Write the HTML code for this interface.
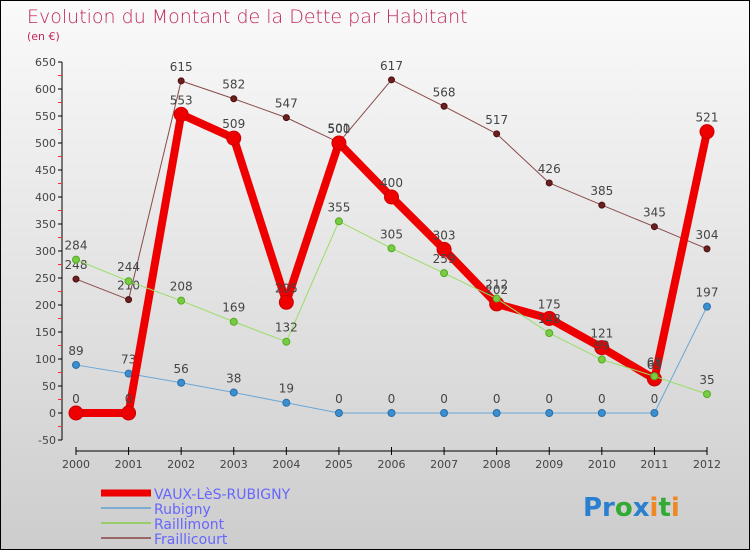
<!DOCTYPE html>
<html><head><meta charset="utf-8"><style>
html,body{margin:0;padding:0}
body{width:750px;height:550px;overflow:hidden;font-family:"DejaVu Sans","Liberation Sans",sans-serif}
#wrap{position:relative;width:748px;height:548px;border:1px solid #000;background:linear-gradient(#fafafa,#cdcdcd)}
svg text{font-family:"DejaVu Sans","Liberation Sans",sans-serif}
</style></head><body>
<div id="wrap">
<svg id="chart" width="748" height="548">
<text x="26" y="22" font-size="19" fill="#c0285a" font-weight="200">Evolution du Montant de la Dette par Habitant</text>
<text x="26" y="39" font-size="11" fill="#c0285a">(en €)</text>
<g id="axes"></g><g id="series"></g>
<g>
<line x1="100" y1="492" x2="150" y2="492" stroke="#e00" stroke-width="7"/>
<text x="153" y="498" font-size="14" fill="#66f">VAUX-LèS-RUBIGNY</text>
<line x1="100" y1="507" x2="150" y2="507" stroke="#7aaed0" stroke-width="2"/>
<text x="153" y="513" font-size="14" fill="#66f">Rubigny</text>
<line x1="100" y1="522" x2="150" y2="522" stroke="#9c6" stroke-width="2"/>
<text x="153" y="528" font-size="14" fill="#66f">Raillimont</text>
<line x1="100" y1="537" x2="150" y2="537" stroke="#966" stroke-width="2"/>
<text x="153" y="543" font-size="14" fill="#66f">Fraillicourt</text>
</g>
<text x="582" y="515" font-size="26" font-weight="bold"><tspan fill="#2a7fd0">Pr</tspan><tspan fill="#3a3">o</tspan><tspan fill="#2a7fd0">x</tspan><tspan fill="#e82">i</tspan><tspan fill="#3a3">t</tspan><tspan fill="#e82">i</tspan></text>
</svg></div>
<script>
const years=[2000,2001,2002,2003,2004,2005,2006,2007,2008,2009,2010,2011,2012];
const yTicks=[-50,0,50,100,150,200,250,300,350,400,450,500,550,600,650];
const vauxValues=[0,0,553,509,205,500,400,303,202,175,121,63,521];
const rubignyValues=[89,73,56,38,19,0,0,0,0,0,0,0,197];
const raillimontValues=[284,244,208,169,132,355,305,259,212,148,99,68,35];
const fraillicourtValues=[248,210,615,582,547,501,617,568,517,426,385,345,304];
const NS="http://www.w3.org/2000/svg";
const xs=i=>75+i*(631/12);
const ys=v=>412-v*27/50;
function mk(tag,attrs,parent){const e=document.createElementNS(NS,tag);for(const k in attrs)e.setAttribute(k,attrs[k]);parent.appendChild(e);return e;}
const axes=document.getElementById('axes'),ser=document.getElementById('series');
let a=mk('line',{x1:61,y1:ys(650),x2:61,y2:ys(-50),stroke:'#000'},axes);


yTicks.forEach(t=>{
 mk('line',{x1:57,y1:ys(t),x2:61,y2:ys(t),stroke:'#000'},axes);
 if(t<650)mk('line',{x1:57,y1:ys(t+25),x2:61,y2:ys(t+25),stroke:'#e33'},axes);
 const l=mk('text',{x:55,y:ys(t)+4,'text-anchor':'end','font-size':11,fill:'#444'},axes);l.textContent=t;
 
 
});
a=mk('line',{x1:xs(0),y1:450,x2:xs(12),y2:450,stroke:'#000'},axes);


years.forEach((y,i)=>{
 mk('line',{x1:xs(i),y1:446,x2:xs(i),y2:454,stroke:'#000'},axes);
 const l=mk('text',{x:xs(i),y:467,'text-anchor':'middle','font-size':11,fill:'#444'},axes);l.textContent=y;
 
 
});
function series(vals,color,w,r,name,ptColor,stroke){
 const g=mk('g',{},ser);
 
 
 const p=mk('polyline',{points:vals.map((v,i)=>xs(i)+','+ys(v)).join(' '),fill:'none',stroke:color,'stroke-width':w,'stroke-linejoin':'round'},g);
 
 
 vals.forEach((v,i)=>{
  const c=mk('circle',{cx:xs(i),cy:ys(v),r:r,fill:ptColor,stroke:stroke,'stroke-width':1},g);
  
  
  const t=mk('text',{x:xs(i),y:ys(v)-10,'text-anchor':'middle','font-size':12,fill:'#444'},g);t.textContent=v;
  
  
 });
}
series(fraillicourtValues,'#8a4a4a',1,3,'fraillicourt','#6b1f1f','#4a1010');
series(rubignyValues,'#6aa7d8',1,3.5,'rubigny','#3a8fd0','#2a6fa8');
series(vauxValues,'#ee0000',8,7,'vaux','#ee0000','#cc0000');
series(raillimontValues,'#99dd66',1,3.5,'raillimont','#77cc44','#55aa22');
</script>
</body></html>
